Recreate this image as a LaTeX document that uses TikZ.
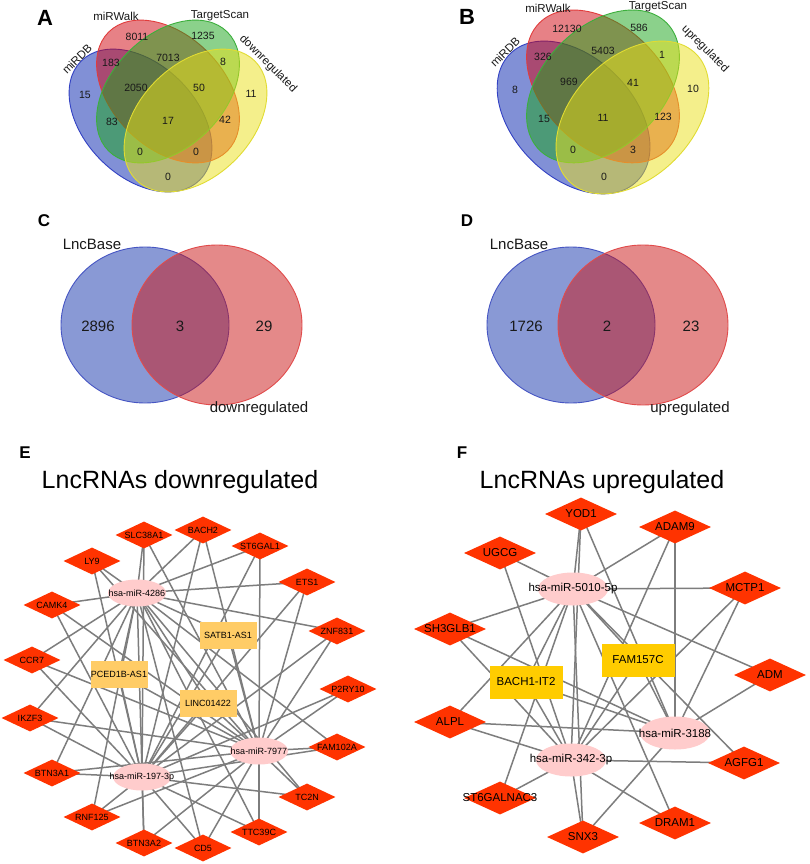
\documentclass[tikz,border=0pt]{standalone}
\usepackage{fontspec}
\setmainfont{Liberation Sans}
\usetikzlibrary{shapes.geometric}
\pgfdeclarelayer{background}
\pgfsetlayers{background,main}
\definecolor{vblue}{RGB}{5,35,175}
\definecolor{vred}{RGB}{209,5,15}
\definecolor{vgreen}{RGB}{25,165,25}
\definecolor{vyellow}{RGB}{235,225,25}
\definecolor{lblue}{RGB}{50,65,195}
\definecolor{lred}{RGB}{225,60,60}
\definecolor{lgreen}{RGB}{60,175,60}
\definecolor{lyellow}{RGB}{225,220,50}
\definecolor{cblue}{RGB}{21,53,173}
\definecolor{cred}{RGB}{203,21,21}
\definecolor{cbline}{RGB}{70,85,195}
\definecolor{crline}{RGB}{225,75,75}
\definecolor{genefill}{RGB}{255,51,0}
\definecolor{mirfill}{RGB}{255,204,204}
\definecolor{lncE}{RGB}{255,204,102}
\definecolor{lncF}{RGB}{255,204,0}
\definecolor{edgegray}{RGB}{125,125,125}
\definecolor{txt}{RGB}{25,25,25}
\newcommand\zb[1]{\makebox[0pt]{#1}}
\tikzset{
 vnum/.style={inner sep=0pt, text=txt, font=\fontsize{10.5}{12}\selectfont},
 vlab/.style={inner sep=0pt, text=txt, font=\fontsize{11.5}{13}\selectfont},
 biglab/.style={inner sep=0pt, font=\bfseries\fontsize{22}{24}\selectfont},
 plab/.style={inner sep=0pt, font=\bfseries\fontsize{17}{19}\selectfont},
 cdtxt/.style={inner sep=0pt, text=txt, font=\fontsize{15}{17}\selectfont},
 ttl/.style={inner sep=0pt, font=\fontsize{25}{29}\selectfont},
 geneE/.style={diamond, fill=genefill, minimum width=57pt, minimum height=27pt, inner sep=0pt, font=\fontsize{9}{10}\selectfont},
 mirE/.style={ellipse, fill=mirfill, minimum width=58pt, minimum height=27pt, inner sep=0pt, font=\fontsize{9}{10}\selectfont},
 lncEsty/.style={rectangle, fill=lncE, minimum width=57pt, minimum height=27pt, inner sep=0pt, font=\fontsize{9}{10}\selectfont},
 geneF/.style={diamond, fill=genefill, minimum width=72pt, minimum height=33pt, inner sep=0pt, font=\fontsize{11.5}{13}\selectfont},
 mirF/.style={ellipse, fill=mirfill, minimum width=70pt, minimum height=33pt, inner sep=0pt, font=\fontsize{11.5}{13}\selectfont},
 lncFsty/.style={rectangle, fill=lncF, minimum width=73pt, minimum height=33pt, inner sep=0pt, font=\fontsize{11.5}{13}\selectfont},
 ed/.style={draw=edgegray, line width=1.5pt},
 vset/.style={fill opacity=0.5, line width=0.9pt},
}
\begin{document}
\begin{tikzpicture}[x=1pt,y=-1pt]
\useasboundingbox (0,0) rectangle (809,864);
\begin{pgfonlayer}{background}
\fill[white] (0,0) rectangle (809,864);
\end{pgfonlayer}

% ---------- Panel A ----------
\begin{scope}[shift={(168,121)}]
 \foreach \cx/\cy/\ang/\fc/\lc in {-27.5/-0.5/-45/vblue/lblue, 0/-29.5/-45/vred/lred, 0/-29.5/45/vgreen/lgreen, 27.5/-0.5/45/vyellow/lyellow}
  \filldraw[vset, fill=\fc, draw=\lc, shift={(\cx,\cy)}, rotate=\ang] (0,0) ellipse [x radius=84, y radius=56];
\end{scope}
\node[biglab] (labA) at (45,18) {A};
\node[vlab] (aWalk) at (116,16) {miRWalk};
\node[vlab] (aTS) at (220,16) {TargetScan};
\node[vlab, rotate=45] (aDB) at (77,59) {miRDB};
\node[vlab, rotate=-45] (aDown) at (268,64) {downregulated};
\foreach \x/\y/\t [count=\i] in {137/37/8011, 203/36/1235, 111/63/183, 168/58/7013, 223/62/8, 85/95/15, 136/88/2050, 199/88/50, 251/94/11, 112/122/83, 168/121/17, 225/120/42, 140/152/0, 196/152/0, 168/177/0}
  \node[vnum] (an\i) at (\x,\y) {\t};

% ---------- Panel B ----------
\begin{scope}[shift={(603,118)}, scale=1.07]
 \foreach \cx/\cy/\ang/\fc/\lc in {-27.5/-0.5/-45/vblue/lblue, 0/-29.5/-45/vred/lred, 0/-29.5/45/vgreen/lgreen, 27.5/-0.5/45/vyellow/lyellow}
  \filldraw[vset, fill=\fc, draw=\lc, shift={(\cx,\cy)}, rotate=\ang] (0,0) ellipse [x radius=84, y radius=56];
\end{scope}
\node[biglab] (labB) at (467,17) {B};
\node[vlab] (bWalk) at (548,8) {miRWalk};
\node[vlab] (bTS) at (658,7) {TargetScan};
\node[vlab, rotate=45] (bDB) at (505,52) {miRDB};
\node[vlab, rotate=-45] (bUp) at (705,49) {upregulated};
\foreach \x/\y/\t [count=\i] in {567/29/12130, 639/28/586, 543/57/326, 603/51/5403, 662/55/1, 515/90/8, 569/82/969, 633/83/41, 693/89/10, 544/119/15, 603/118/11, 663/117/123, 573/150/0, 633/150/3, 604/177/0}
  \node[vnum] (bn\i) at (\x,\y) {\t};

% ---------- Panel C ----------
\filldraw[vset, fill=cblue, draw=cbline] (145,325) ellipse [x radius=84, y radius=78];
\filldraw[vset, fill=cred, draw=crline] (217,325) ellipse [x radius=85, y radius=80];
\node[plab] (labC) at (44,221) {C};
\node[cdtxt] (cBase) at (92,244) {LncBase};
\node[cdtxt] (c1) at (98,326) {2896};
\node[cdtxt] (c2) at (180,326) {3};
\node[cdtxt] (c3) at (264,326) {29};
\node[cdtxt] (cDown) at (259,409) {downregulated};

% ---------- Panel D ----------
\filldraw[vset, fill=cblue, draw=cbline] (571,325) ellipse [x radius=84, y radius=78];
\filldraw[vset, fill=cred, draw=crline] (643,325) ellipse [x radius=85, y radius=80];
\node[plab] (labD) at (467,221) {D};
\node[cdtxt] (dBase) at (519,244) {LncBase};
\node[cdtxt] (d1) at (526,326) {1726};
\node[cdtxt] (d2) at (607,326) {2};
\node[cdtxt] (d3) at (691,326) {23};
\node[cdtxt] (dUp) at (690,409) {upregulated};

% ---------- Panel E ----------
\node[plab] (labE) at (25,453) {E};
\node[ttl] (tE) at (180,482) {LncRNAs downregulated};
\node[mirE] (m4286) at (137,593) {\zb{hsa-miR-4286}};
\node[mirE] (m197) at (142,777) {\zb{hsa-miR-197-3p}};
\node[mirE] (m7977) at (259,751) {\zb{hsa-miR-7977}};
\node[lncEsty] (satb) at (228,635) {SATB1-AS1};
\node[lncEsty] (pced) at (119,674) {PCED1B-AS1};
\node[lncEsty] (linc) at (208,703) {LINC01422};
\node[geneE] (slc) at (144,535) {\zb{SLC38A1}};
\node[geneE] (bach) at (203,530) {\zb{BACH2}};
\node[geneE] (stg) at (260,546) {\zb{ST6GAL1}};
\node[geneE] (ly) at (92,561) {\zb{LY9}};
\node[geneE] (ets) at (307,582) {\zb{ETS1}};
\node[geneE] (camk) at (52,605) {\zb{CAMK4}};
\node[geneE] (znf) at (337,631) {\zb{ZNF831}};
\node[geneE] (ccr) at (32,660) {\zb{CCR7}};
\node[geneE] (p2ry) at (348,689) {\zb{P2RY10}};
\node[geneE] (ikzf) at (30,718) {\zb{IKZF3}};
\node[geneE] (famA) at (337,747) {\zb{FAM102A}};
\node[geneE] (btnA) at (52,773) {\zb{BTN3A1}};
\node[geneE] (tcn) at (307,797) {\zb{TC2N}};
\node[geneE] (rnf) at (92,817) {\zb{RNF125}};
\node[geneE] (ttc) at (259,832) {\zb{TTC39C}};
\node[geneE] (btnB) at (144,843) {\zb{BTN3A2}};
\node[geneE] (cdf) at (203,848) {\zb{CD5}};

% ---------- Panel F ----------
\node[plab] (labF) at (462,453) {F};
\node[ttl] (tF) at (602,482) {LncRNAs upregulated};
\node[mirF] (f5010) at (573,589) {\zb{hsa-miR-5010-5p}};
\node[mirF] (f3188) at (675,733) {\zb{hsa-miR-3188}};
\node[mirF] (f342) at (571,760) {\zb{hsa-miR-342-3p}};
\node[lncFsty] (fbach) at (526,682) {BACH1-IT2};
\node[lncFsty] (ffam) at (638,660) {FAM157C};
\node[geneF] (fyod) at (581,514) {\zb{YOD1}};
\node[geneF] (fadam) at (675,527) {\zb{ADAM9}};
\node[geneF] (fugcg) at (500,553) {\zb{UGCG}};
\node[geneF] (fmctp) at (745,588) {\zb{MCTP1}};
\node[geneF] (fsh) at (450,629) {\zb{SH3GLB1}};
\node[geneF] (fadm) at (770,675) {\zb{ADM}};
\node[geneF] (falpl) at (450,722) {\zb{ALPL}};
\node[geneF] (fagfg) at (744,763) {\zb{AGFG1}};
\node[geneF] (fst) at (500,798) {\zb{ST6GALNAC3}};
\node[geneF] (fdram) at (675,823) {\zb{DRAM1}};
\node[geneF] (fsnx) at (583,837) {\zb{SNX3}};

% ---------- Edges ----------
\begin{pgfonlayer}{background}
 \foreach \g in {slc,bach,stg,ly,ets,camk,znf,ccr,ikzf,famA,btnA,tcn,rnf,ttc,btnB,cdf,satb,pced,linc}{
  \foreach \m in {m4286,m197,m7977}
   \draw[ed] (\g.center) -- (\m.center);
 }
 \draw[ed] (p2ry.center) -- (m197.center);
 \draw[ed] (p2ry.center) -- (m7977.center);
 \foreach \g in {fyod,fadam,fmctp,fsh,falpl,fsnx,fbach,ffam}{
  \foreach \m in {f5010,f342,f3188}
   \draw[ed] (\g.center) -- (\m.center);
 }
 \foreach \g/\m in {fugcg/f5010, fugcg/f342, fadm/f5010, fadm/f3188, fagfg/f5010, fagfg/f342, fst/f5010, fst/f342, fdram/f5010, fdram/f342}
  \draw[ed] (\g.center) -- (\m.center);
\end{pgfonlayer}
\end{tikzpicture}
\end{document}
